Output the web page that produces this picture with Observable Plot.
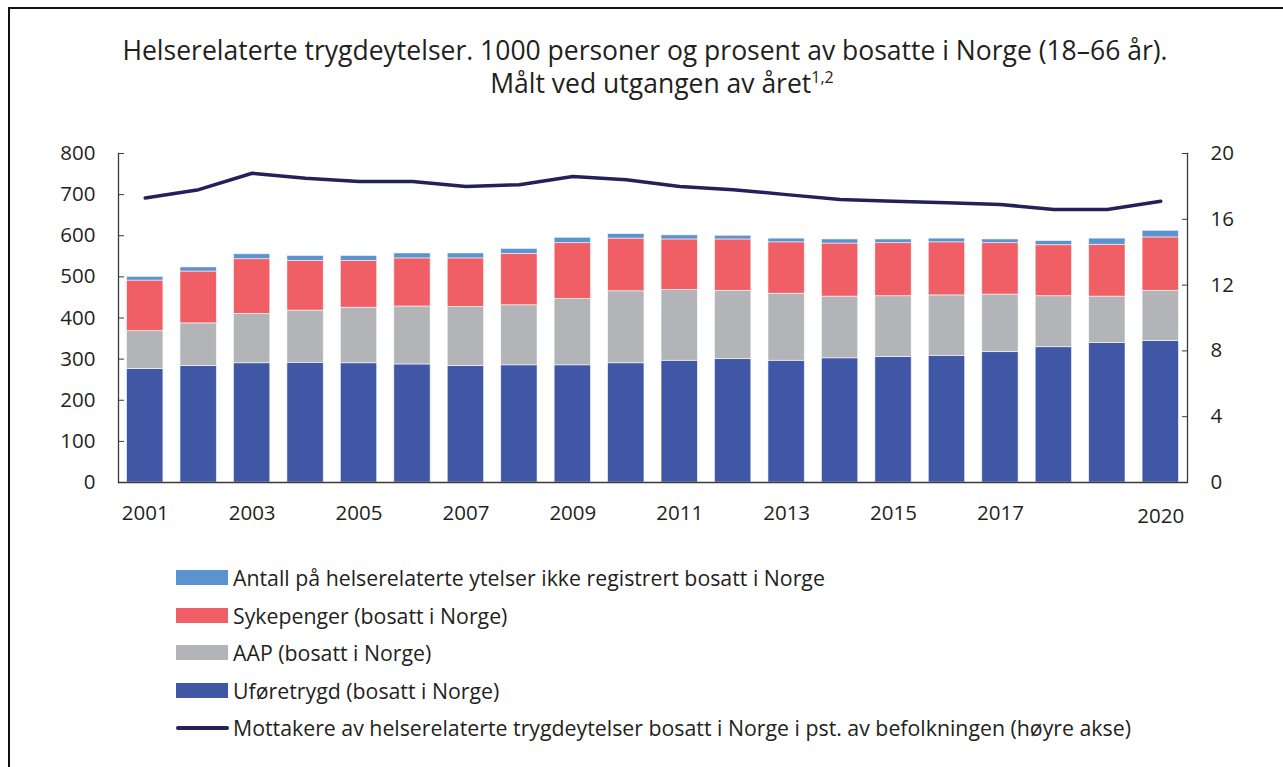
<!DOCTYPE html>
<html>
<head>
<meta charset="utf-8">
<script src="https://cdn.jsdelivr.net/npm/d3@7"></script>
<script src="https://cdn.jsdelivr.net/npm/@observablehq/plot@0.6"></script>
<style>
  html, body { margin: 0; padding: 0; background: #fff; }
  body { width: 1283px; height: 767px; position: relative; overflow: hidden; font-family: "Open Sans", sans-serif; color: #231f20; }
  #frameL { position: absolute; left: 8px; top: 7px; width: 2px; height: 760px; background: #111; }
  #frameT { position: absolute; left: 8px; top: 7px; width: 1275px; height: 2px; background: #111; }
  #title { position: absolute; left: 0; width: 1290px; top: 34px; text-align: center; font-size: 26.5px; line-height: 33px; }
  #title .l2 { position: relative; left: 17px; }
  #title sup { font-size: 16px; vertical-align: 0; position: relative; top: -10px; }
  #chart { position: absolute; left: 0; top: 130px; }
  #legend { position: absolute; left: 176px; top: 559px; font-size: 21.3px; }
  .row { display: flex; align-items: center; height: 37.5px; }
  .sw { width: 52px; height: 15px; margin-right: 5px; }
  .ln { width: 53px; height: 3.5px; margin-right: 4px; border-radius: 2px; }
</style>
</head>
<body>
<div id="frameL"></div>
<div id="frameT"></div>
<div id="title">Helserelaterte trygdeytelser. 1000 personer og prosent av bosatte i Norge (18–66 år).<br><span class="l2">Målt ved utgangen av året<sup>1,2</sup></span></div>
<div id="chart"></div>
<div id="legend"></div>
<script>
const years = [2001,2002,2003,2004,2005,2006,2007,2008,2009,2010,2011,2012,2013,2014,2015,2016,2017,2018,2019,2020];
const uforetrygd = [276,283,290,291,290,287,283,285,285,290,296,300,296,302,305,308,317,329,339,344];
const aap        = [92,104,120,127,135,141,144,146,161,175,172,166,163,150,148,147,140,124,113,122];
const sykepenger = [123,126,133,121,114,117,118,125,136,128,123,125,125,129,129,129,125,124,126,130];
const ikkeBosatt = [9,10,12,12,12,12,12,12,13,11,10,9,9,10,9,9,9,10,15,16];
const prosent    = [17.3,17.8,18.8,18.5,18.3,18.3,18.0,18.1,18.6,18.4,18.0,17.8,17.5,17.2,17.1,17.0,16.9,16.6,16.6,17.1];
const leftTicks = [0,100,200,300,400,500,600,700,800];
const rightTicks = [0,4,8,12,16,20];
const xTickYears = [2001,2003,2005,2007,2009,2011,2013,2015,2017];
const xTickLast = [2020];

const seriesNames = [
  "Uføretrygd (bosatt i Norge)",
  "AAP (bosatt i Norge)",
  "Sykepenger (bosatt i Norge)",
  "Antall på helserelaterte ytelser ikke registrert bosatt i Norge"
];
const seriesValues = [uforetrygd, aap, sykepenger, ikkeBosatt];
const seriesColors = ["#4057a6", "#b3b4b7", "#f05f66", "#5a93cf"];
const lineName = "Mottakere av helserelaterte trygdeytelser bosatt i Norge i pst. av befolkningen (høyre akse)";
const lineColor = "#222259";

const ratio = 40; // 20 % on right axis equals 800 on left axis

const bars = [];
seriesNames.forEach((s, i) => years.forEach((y, j) => bars.push({year: y, series: s, value: seriesValues[i][j]})));
const lineData = years.map((y, j) => ({year: y, pct: prosent[j]}));

const fs = 20.5;

const chart = Plot.plot({
  width: 1283,
  height: 410,
  marginLeft: 118,
  marginRight: 96,
  marginTop: 23,
  marginBottom: 58,
  style: {fontFamily: "Open Sans, sans-serif", fontSize: fs + "px", color: "#231f20", background: "transparent", overflow: "visible"},
  x: {type: "band", domain: years, paddingInner: 0.32, paddingOuter: 0.16, round: false, axis: null},
  y: {domain: [0, 800], axis: null},
  color: {domain: seriesNames, range: seriesColors},
  marks: [
    Plot.barY(bars, {x: "year", y: "value", fill: "series", order: seriesNames, stroke: "#ffffff", strokeWidth: 0.8, strokeOpacity: 0.7}),
    Plot.line(lineData, {x: "year", y: d => d.pct * ratio, stroke: lineColor, strokeWidth: 3.5, strokeLinecap: "round", strokeLinejoin: "round"}),
    Plot.frame({anchor: "left", stroke: "#3a3a3a", strokeWidth: 1.3}),
    Plot.frame({anchor: "right", stroke: "#3a3a3a", strokeWidth: 1.3}),
    Plot.ruleY([0], {stroke: "#3a3a3a", strokeWidth: 1.6}),
    Plot.axisY({anchor: "left", ticks: leftTicks, tickSize: -6, tickPadding: 29, label: null, stroke: "#3a3a3a", fill: "#231f20", fontSize: fs}),
    Plot.axisY({anchor: "right", ticks: rightTicks.map(v => v * ratio), tickFormat: d => String(d / ratio), tickSize: -6, tickPadding: 29, label: null, stroke: "#3a3a3a", fill: "#231f20", fontSize: fs}),
    Plot.axisX({ticks: xTickYears, tickFormat: d => String(d), tickSize: 0, tickPadding: 23, label: null, fill: "#231f20", fontSize: fs}),
    Plot.axisX({ticks: xTickLast, tickFormat: d => String(d), tickSize: 0, tickPadding: 26, label: null, fill: "#231f20", fontSize: fs})
  ]
});
document.getElementById("chart").appendChild(chart);

const legend = document.getElementById("legend");
const legendOrder = [3, 2, 1, 0];
legendOrder.forEach(i => {
  const row = document.createElement("div");
  row.className = "row";
  row.innerHTML = `<div class="sw" style="background:${seriesColors[i]}"></div><span>${seriesNames[i]}</span>`;
  legend.appendChild(row);
});
const lrow = document.createElement("div");
lrow.className = "row";
lrow.innerHTML = `<div class="ln" style="background:${lineColor}"></div><span>${lineName}</span>`;
legend.appendChild(lrow);
</script>
</body>
</html>
